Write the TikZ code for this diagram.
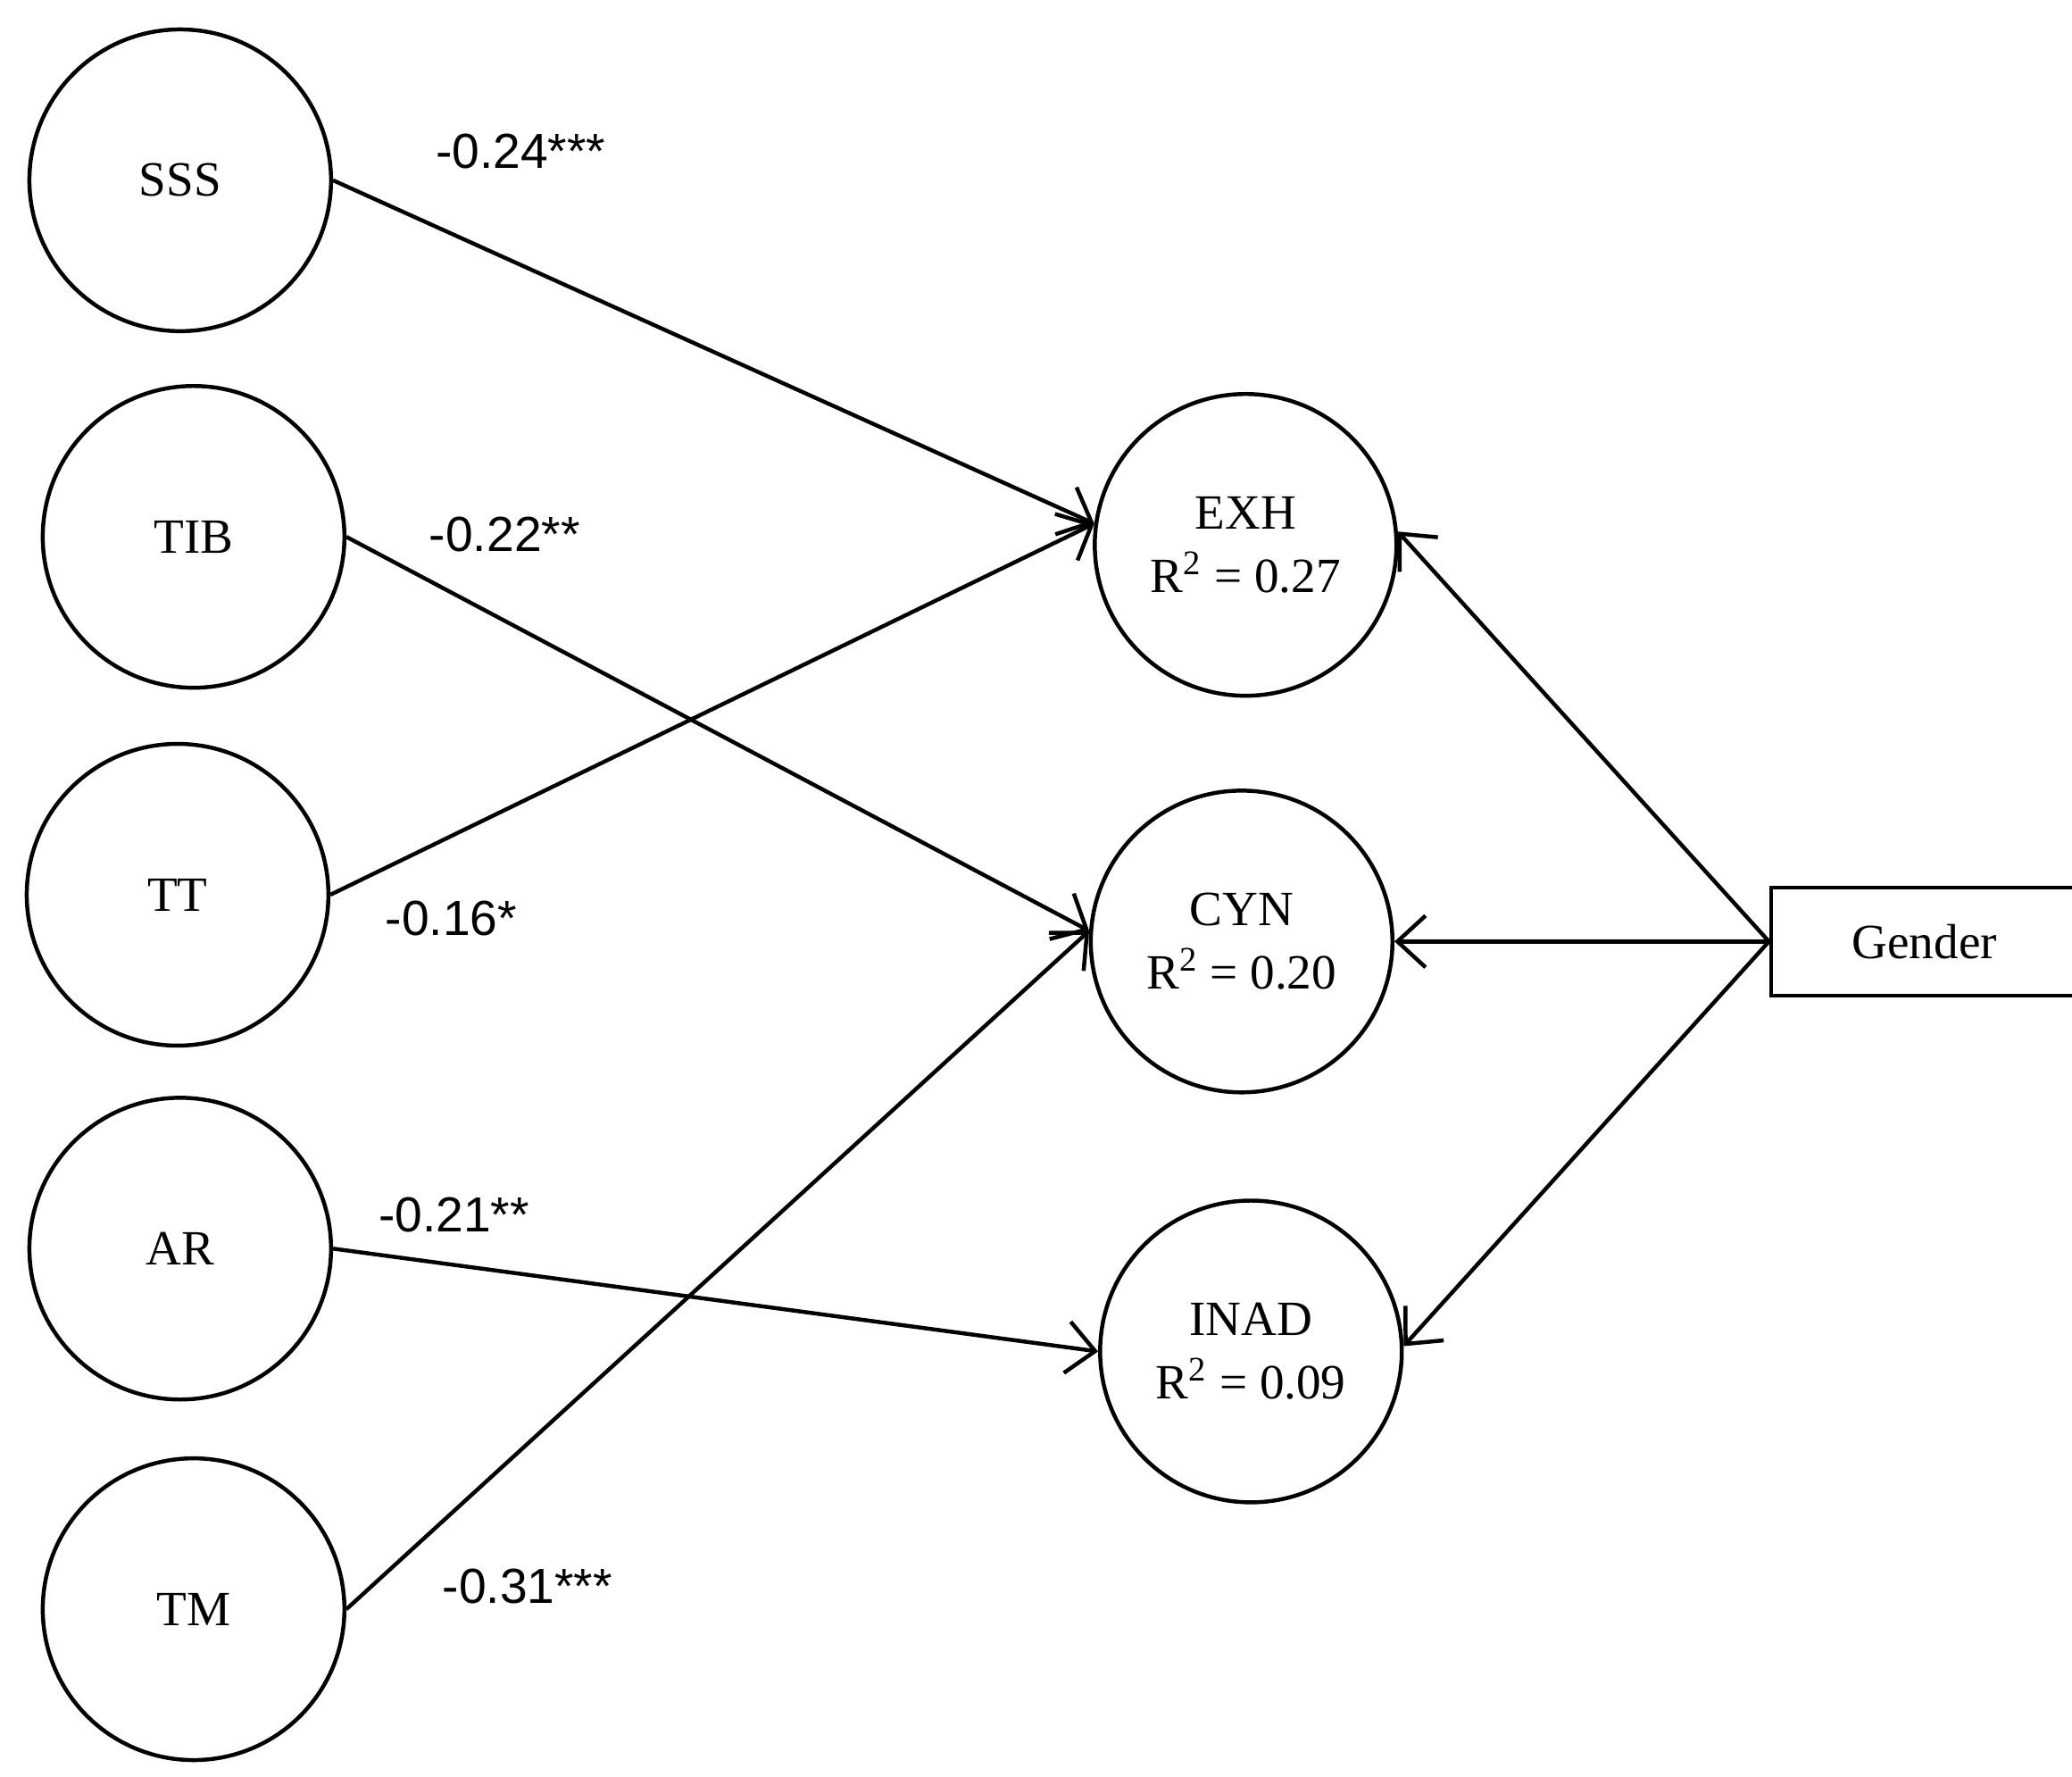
\documentclass[tikz,border=0pt]{standalone}
\usepackage{fontspec}
\setmainfont{Liberation Serif}
\newfontfamily\lab{Liberation Sans}
\usetikzlibrary{arrows.meta}
\begin{document}
\begin{tikzpicture}[x=0.02cm,y=-0.02cm,
  lv/.style={circle,draw,line width=1.7pt,minimum size=4.52cm,inner sep=0pt,font=\fontsize{21}{27}\selectfont,align=center},
  arr/.style={line width=1.7pt,-{Straight Barb[length=12pt,width=22pt,line width=1.7pt]}},
  co/.style={font=\lab\fontsize{21}{25}\selectfont}]
\useasboundingbox (0,0) rectangle (1552,1330);
\node[lv] (sss) at (135,135) {SSS};
\node[lv] (tib) at (145,402) {TIB};
\node[lv] (tt) at (133,670) {TT};
\node[lv] (ar) at (135,935) {AR};
\node[lv] (tm) at (145,1205) {TM};
\node[lv] (exh) at (933,408) {EXH\\R\textsuperscript{2} = 0.27};
\node[lv] (cyn) at (930,705) {CYN\\R\textsuperscript{2} = 0.20};
\node[lv] (inad) at (937,1012) {INAD\\R\textsuperscript{2} = 0.09};
\node[draw,line width=1.7pt,minimum width=4.6cm,minimum height=1.62cm,anchor=west,font=\fontsize{21}{25}\selectfont] (gen) at (1325,705) {Gender};
\draw[arr] (sss.east) -- (exh.172);
\draw[arr] (tib.east) -- (cyn.176);
\draw[arr] (tt.east) -- (exh.172);
\draw[arr] (ar.east) -- (inad.180);
\draw[arr] (tm.east) -- (cyn.176);
\draw[arr] (gen.west) -- (exh.5);
\draw[arr] (gen.west) -- (cyn.east);
\draw[arr] (gen.west) -- (inad.2);
\node[co] (l1) at (390,113) {-0.24***};
\node[co] (l2) at (378,400) {-0.22**};
\node[co] (l3) at (338,688) {-0.16*};
\node[co] (l4) at (340,910) {-0.21**};
\node[co] (l5) at (395,1188) {-0.31***};
\end{tikzpicture}
\end{document}
